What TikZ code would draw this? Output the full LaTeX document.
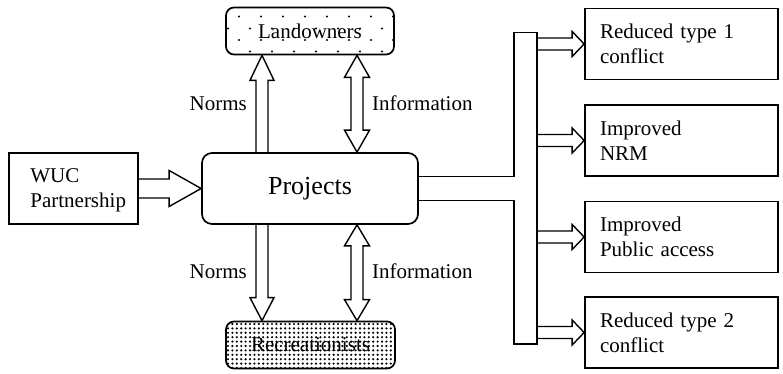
\documentclass[tikz,border=0pt]{standalone}
\usepackage{fontspec}
\setmainfont{Liberation Serif}
\usetikzlibrary{calc}
\tikzset{
  box/.style={draw, line width=1.7pt, inner sep=0pt},
  rbox/.style={box, minimum height=71pt, text width=163pt, inner xsep=15pt, align=left},
  roundbox/.style={box, rounded corners=8pt, minimum width=168pt, minimum height=47pt},
  blk/.style={draw, line width=1.4pt},
  lbl/.style={inner sep=0pt},
  dotfill/.style={fill=black},
  sparsedots/.style={path picture={
    \foreach \yy/\xo in {9/13, 21/2, 32.5/13, 44/2}
      \foreach \ck in {0,...,7}
        \fill[dotfill] ($(path picture bounding box.north west)+(\xo+22*\ck,\yy)$) circle (1.2pt);
  }},
  densedots/.style={path picture={
    \foreach \ci in {0,...,38}
      \foreach \cj in {0,...,10}
        \fill[dotfill] ($(path picture bounding box.north west)+(2+4.4*\ci,2.5+4.4*\cj)$) circle (1.2pt);
  }},
}
\newcommand\singlearrow[5]{% base, tip, shaft half, head half, head length
  \coordinate (ah) at ($(#2)!#5!(#1)$);
  \draw[blk] ($(#1)!#3!90:(#2)$) -- ($(ah)!#3!90:(#2)$) -- ($(ah)!#4!90:(#2)$) -- (#2)
    -- ($(ah)!#4!-90:(#2)$) -- ($(ah)!#3!-90:(#2)$) -- ($(#1)!#3!-90:(#2)$);
}
\newcommand\dblarrow[5]{% end1, end2, shaft half, head half, head length
  \coordinate (aa) at ($(#1)!#5!(#2)$);
  \coordinate (ab) at ($(#2)!#5!(#1)$);
  \draw[blk] (#1) -- ($(aa)!#4!90:(#2)$) -- ($(aa)!#3!90:(#2)$) -- ($(ab)!#3!-90:(#1)$)
    -- ($(ab)!#4!-90:(#1)$) -- (#2) -- ($(ab)!#4!90:(#1)$) -- ($(ab)!#3!90:(#1)$)
    -- ($(aa)!#3!-90:(#2)$) -- ($(aa)!#4!-90:(#2)$) -- cycle;
}
\begin{document}
\begin{tikzpicture}[x=1pt, y=-1pt, font=\fontsize{21pt}{25pt}\selectfont]
\useasboundingbox (0,0) rectangle (783,374);

% main boxes
\node[roundbox, sparsedots] (land) at (310,31) {\raisebox{-3pt}{Landowners}};
\node[roundbox, densedots, minimum width=169pt] (rec) at (310.5,345) {Recreationists};
\node[box, rounded corners=10pt, minimum width=216pt, minimum height=71pt,
      font=\fontsize{26pt}{30pt}\selectfont] (proj) at (310,188.5) {\raisebox{2.5pt}{Projects}};
\node[box, minimum width=129pt, minimum height=71pt] (wuc) at (73.5,188.5) {};
\node[lbl, anchor=west, align=left] (wuct) at ([xshift=22pt,yshift=-2pt]wuc.west) {WUC\\Partnership};

% outcome boxes
\node[rbox] (r1) at (681.5,44) {Reduced type 1\\conflict};
\node[rbox] (r2) at (681.5,140.5) {Improved\\NRM};
\node[rbox] (r3) at (681.5,237) {Improved\\Public access};
\node[rbox] (r4) at (681.5,332.5) {Reduced type 2\\conflict};

% vertical block arrows
\coordinate (nx) at (262,0);
\coordinate (ix) at (357,0);
\coordinate (n1b) at (proj.north -| nx);
\coordinate (n1t) at (land.south -| nx);
\singlearrow{n1b}{n1t}{6pt}{12pt}{25pt}
\coordinate (i1a) at (land.south -| ix);
\coordinate (i1b) at (proj.north -| ix);
\dblarrow{i1a}{i1b}{6pt}{12.5pt}{22pt}
\coordinate (n2b) at (proj.south -| nx);
\coordinate (n2t) at (rec.north -| nx);
\singlearrow{n2b}{n2t}{6pt}{12pt}{23pt}
\coordinate (i2a) at (proj.south -| ix);
\coordinate (i2b) at (rec.north -| ix);
\dblarrow{i2a}{i2b}{6pt}{12.5pt}{21pt}

% WUC arrow
\singlearrow{wuc.east}{proj.west}{9.5pt}{18pt}{32pt}

% labels
\node[lbl, anchor=base east] (norm1) at (247,111) {Norms};
\node[lbl, anchor=base west] (info1) at (372,111) {Information};
\node[lbl, anchor=base east] (norm2) at (247,278) {Norms};
\node[lbl, anchor=base west] (info2) at (372,278) {Information};

% distribution bus
\coordinate (bl) at (514,0);
\coordinate (br) at (537,0);
\coordinate (pj) at (proj.east -| bl);
\draw[blk] ($(proj.east)+(0,-12)$) -- ($(pj)+(0,-12)$) -- (514,32.5) -- (537,32.5)
  -- (537,344) -- (514,344) -- ($(pj)+(0,12)$) -- ($(proj.east)+(0,12)$);

% branch arrows
\coordinate (b1) at (r1.west -| br);
\coordinate (b2) at (r2.west -| br);
\coordinate (b3) at (r3.west -| br);
\coordinate (b4) at (r4.west -| br);
\singlearrow{b1}{r1.west}{6pt}{12.5pt}{12pt}
\singlearrow{b2}{r2.west}{6pt}{12.5pt}{12pt}
\singlearrow{b3}{r3.west}{6pt}{12.5pt}{12pt}
\singlearrow{b4}{r4.west}{6pt}{12.5pt}{12pt}
\end{tikzpicture}
\end{document}
